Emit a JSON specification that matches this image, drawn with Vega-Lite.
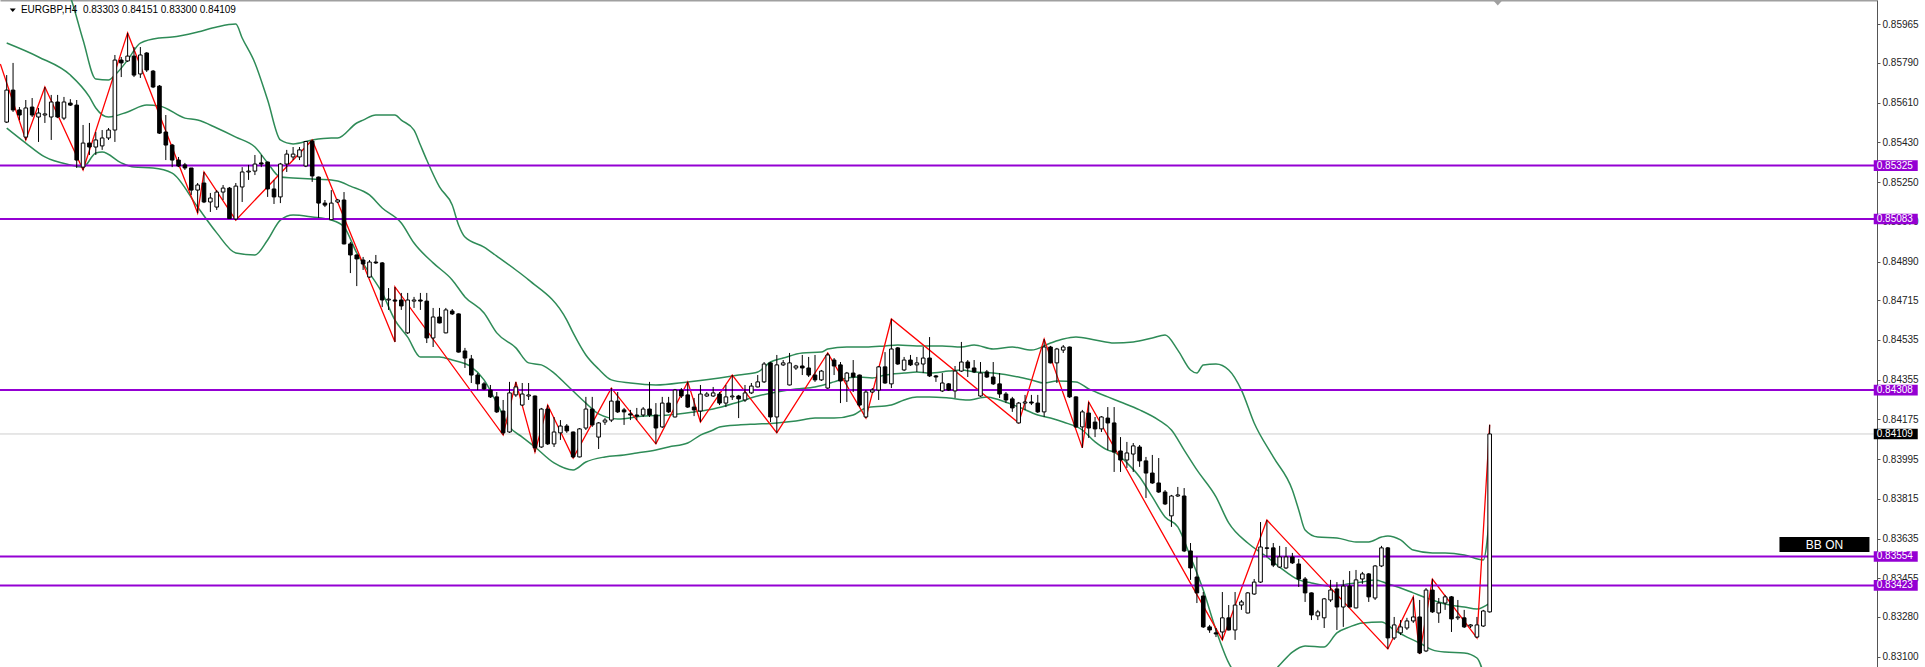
{
"$schema": "https://vega.github.io/schema/vega-lite/v6.json",
"width": 1877, "height": 667,
"autosize": {"type": "none"},
"padding": {"left": 0, "top": 0, "right": 48, "bottom": 0},
"background": "#ffffff",
"config": {"view": {"stroke": null}},
"datasets": {
"c": [
{"i":0,"o":0.85522,"h":0.85735,"l":0.85518,"c":0.85667},
{"i":1,"o":0.85667,"h":0.85790,"l":0.85568,"c":0.85577},
{"i":2,"o":0.85577,"h":0.85590,"l":0.85531,"c":0.85554},
{"i":3,"o":0.85454,"h":0.85622,"l":0.85441,"c":0.85586},
{"i":4,"o":0.85590,"h":0.85631,"l":0.85545,"c":0.85554},
{"i":5,"o":0.85545,"h":0.85586,"l":0.85432,"c":0.85563},
{"i":6,"o":0.85554,"h":0.85681,"l":0.85518,"c":0.85559},
{"i":7,"o":0.85545,"h":0.85645,"l":0.85441,"c":0.85613},
{"i":8,"o":0.85613,"h":0.85645,"l":0.85540,"c":0.85545},
{"i":9,"o":0.85540,"h":0.85636,"l":0.85531,"c":0.85613},
{"i":10,"o":0.85608,"h":0.85626,"l":0.85595,"c":0.85599},
{"i":11,"o":0.85599,"h":0.85622,"l":0.85314,"c":0.85350},
{"i":12,"o":0.85318,"h":0.85509,"l":0.85305,"c":0.85427},
{"i":13,"o":0.85427,"h":0.85518,"l":0.85373,"c":0.85409},
{"i":14,"o":0.85409,"h":0.85477,"l":0.85373,"c":0.85441},
{"i":15,"o":0.85414,"h":0.85486,"l":0.85396,"c":0.85450},
{"i":16,"o":0.85450,"h":0.85495,"l":0.85441,"c":0.85486},
{"i":17,"o":0.85486,"h":0.85826,"l":0.85432,"c":0.85803},
{"i":18,"o":0.85803,"h":0.85817,"l":0.85726,"c":0.85790},
{"i":19,"o":0.85799,"h":0.85926,"l":0.85794,"c":0.85821},
{"i":20,"o":0.85821,"h":0.85862,"l":0.85726,"c":0.85735},
{"i":21,"o":0.85740,"h":0.85862,"l":0.85722,"c":0.85826},
{"i":22,"o":0.85835,"h":0.85839,"l":0.85749,"c":0.85758},
{"i":23,"o":0.85753,"h":0.85758,"l":0.85676,"c":0.85681},
{"i":24,"o":0.85685,"h":0.85690,"l":0.85468,"c":0.85472},
{"i":25,"o":0.85477,"h":0.85554,"l":0.85350,"c":0.85418},
{"i":26,"o":0.85418,"h":0.85423,"l":0.85318,"c":0.85350},
{"i":27,"o":0.85350,"h":0.85364,"l":0.85318,"c":0.85323},
{"i":28,"o":0.85328,"h":0.85337,"l":0.85305,"c":0.85314},
{"i":29,"o":0.85314,"h":0.85314,"l":0.85192,"c":0.85214},
{"i":30,"o":0.85214,"h":0.85246,"l":0.85110,"c":0.85237},
{"i":31,"o":0.85246,"h":0.85296,"l":0.85155,"c":0.85160},
{"i":32,"o":0.85160,"h":0.85201,"l":0.85115,"c":0.85178},
{"i":33,"o":0.85137,"h":0.85214,"l":0.85124,"c":0.85205},
{"i":34,"o":0.85205,"h":0.85237,"l":0.85169,"c":0.85223},
{"i":35,"o":0.85223,"h":0.85228,"l":0.85083,"c":0.85085},
{"i":36,"o":0.85083,"h":0.85246,"l":0.85078,"c":0.85232},
{"i":37,"o":0.85228,"h":0.85318,"l":0.85160,"c":0.85296},
{"i":38,"o":0.85296,"h":0.85328,"l":0.85260,"c":0.85300},
{"i":39,"o":0.85300,"h":0.85373,"l":0.85282,"c":0.85332},
{"i":40,"o":0.85337,"h":0.85373,"l":0.85318,"c":0.85332},
{"i":41,"o":0.85341,"h":0.85343,"l":0.85183,"c":0.85219},
{"i":42,"o":0.85219,"h":0.85260,"l":0.85151,"c":0.85183},
{"i":43,"o":0.85183,"h":0.85337,"l":0.85155,"c":0.85332},
{"i":44,"o":0.85332,"h":0.85396,"l":0.85296,"c":0.85377},
{"i":45,"o":0.85364,"h":0.85409,"l":0.85350,"c":0.85377},
{"i":46,"o":0.85364,"h":0.85409,"l":0.85350,"c":0.85396},
{"i":47,"o":0.85323,"h":0.85436,"l":0.85318,"c":0.85434},
{"i":48,"o":0.85436,"h":0.85441,"l":0.85251,"c":0.85278},
{"i":49,"o":0.85273,"h":0.85275,"l":0.85088,"c":0.85155},
{"i":50,"o":0.85155,"h":0.85169,"l":0.85137,"c":0.85146},
{"i":51,"o":0.85080,"h":0.85214,"l":0.85078,"c":0.85155},
{"i":52,"o":0.85160,"h":0.85174,"l":0.85155,"c":0.85169},
{"i":53,"o":0.85169,"h":0.85205,"l":0.84968,"c":0.84970},
{"i":54,"o":0.84970,"h":0.84979,"l":0.84838,"c":0.84920},
{"i":55,"o":0.84920,"h":0.84922,"l":0.84779,"c":0.84902},
{"i":56,"o":0.84897,"h":0.84911,"l":0.84852,"c":0.84879},
{"i":57,"o":0.84820,"h":0.84897,"l":0.84816,"c":0.84888},
{"i":58,"o":0.84888,"h":0.84920,"l":0.84879,"c":0.84884},
{"i":59,"o":0.84884,"h":0.84888,"l":0.84684,"c":0.84716},
{"i":60,"o":0.84716,"h":0.84770,"l":0.84671,"c":0.84720},
{"i":61,"o":0.84716,"h":0.84775,"l":0.84526,"c":0.84711},
{"i":62,"o":0.84716,"h":0.84748,"l":0.84671,"c":0.84689},
{"i":63,"o":0.84567,"h":0.84748,"l":0.84562,"c":0.84716},
{"i":64,"o":0.84711,"h":0.84730,"l":0.84680,"c":0.84716},
{"i":65,"o":0.84716,"h":0.84748,"l":0.84671,"c":0.84711},
{"i":66,"o":0.84711,"h":0.84748,"l":0.84521,"c":0.84544},
{"i":67,"o":0.84544,"h":0.84680,"l":0.84503,"c":0.84639},
{"i":68,"o":0.84639,"h":0.84680,"l":0.84610,"c":0.84612},
{"i":69,"o":0.84567,"h":0.84680,"l":0.84565,"c":0.84671},
{"i":70,"o":0.84666,"h":0.84675,"l":0.84648,"c":0.84653},
{"i":71,"o":0.84653,"h":0.84655,"l":0.84478,"c":0.84480},
{"i":72,"o":0.84485,"h":0.84499,"l":0.84408,"c":0.84453},
{"i":73,"o":0.84449,"h":0.84467,"l":0.84340,"c":0.84376},
{"i":74,"o":0.84376,"h":0.84385,"l":0.84308,"c":0.84336},
{"i":75,"o":0.84336,"h":0.84345,"l":0.84308,"c":0.84313},
{"i":76,"o":0.84308,"h":0.84331,"l":0.84272,"c":0.84277},
{"i":77,"o":0.84277,"h":0.84299,"l":0.84204,"c":0.84209},
{"i":78,"o":0.84213,"h":0.84263,"l":0.84104,"c":0.84114},
{"i":79,"o":0.84118,"h":0.84345,"l":0.84114,"c":0.84295},
{"i":80,"o":0.84286,"h":0.84345,"l":0.84277,"c":0.84322},
{"i":81,"o":0.84240,"h":0.84340,"l":0.84236,"c":0.84290},
{"i":82,"o":0.84281,"h":0.84340,"l":0.84263,"c":0.84286},
{"i":83,"o":0.84281,"h":0.84283,"l":0.84027,"c":0.84046},
{"i":84,"o":0.84050,"h":0.84227,"l":0.84046,"c":0.84222},
{"i":85,"o":0.84222,"h":0.84240,"l":0.84059,"c":0.84064},
{"i":86,"o":0.84064,"h":0.84186,"l":0.84050,"c":0.84118},
{"i":87,"o":0.84114,"h":0.84172,"l":0.84082,"c":0.84145},
{"i":88,"o":0.84145,"h":0.84154,"l":0.84114,"c":0.84123},
{"i":89,"o":0.84118,"h":0.84120,"l":0.84000,"c":0.84005},
{"i":90,"o":0.84005,"h":0.84136,"l":0.84003,"c":0.84132},
{"i":91,"o":0.84136,"h":0.84277,"l":0.84127,"c":0.84222},
{"i":92,"o":0.84222,"h":0.84277,"l":0.84141,"c":0.84150},
{"i":93,"o":0.84095,"h":0.84163,"l":0.84041,"c":0.84159},
{"i":94,"o":0.84163,"h":0.84181,"l":0.84150,"c":0.84172},
{"i":95,"o":0.84172,"h":0.84317,"l":0.84163,"c":0.84258},
{"i":96,"o":0.84258,"h":0.84299,"l":0.84204,"c":0.84209},
{"i":97,"o":0.84218,"h":0.84227,"l":0.84150,"c":0.84209},
{"i":98,"o":0.84200,"h":0.84218,"l":0.84172,"c":0.84195},
{"i":99,"o":0.84195,"h":0.84227,"l":0.84172,"c":0.84190},
{"i":100,"o":0.84195,"h":0.84231,"l":0.84186,"c":0.84222},
{"i":101,"o":0.84222,"h":0.84345,"l":0.84186,"c":0.84195},
{"i":102,"o":0.84195,"h":0.84249,"l":0.84064,"c":0.84136},
{"i":103,"o":0.84141,"h":0.84277,"l":0.84136,"c":0.84249},
{"i":104,"o":0.84249,"h":0.84277,"l":0.84204,"c":0.84209},
{"i":105,"o":0.84186,"h":0.84313,"l":0.84184,"c":0.84308},
{"i":106,"o":0.84308,"h":0.84317,"l":0.84272,"c":0.84281},
{"i":107,"o":0.84286,"h":0.84345,"l":0.84227,"c":0.84231},
{"i":108,"o":0.84231,"h":0.84272,"l":0.84190,"c":0.84218},
{"i":109,"o":0.84213,"h":0.84331,"l":0.84163,"c":0.84290},
{"i":110,"o":0.84281,"h":0.84299,"l":0.84277,"c":0.84290},
{"i":111,"o":0.84281,"h":0.84322,"l":0.84277,"c":0.84295},
{"i":112,"o":0.84290,"h":0.84299,"l":0.84240,"c":0.84249},
{"i":113,"o":0.84249,"h":0.84331,"l":0.84231,"c":0.84277},
{"i":114,"o":0.84277,"h":0.84376,"l":0.84263,"c":0.84281},
{"i":115,"o":0.84281,"h":0.84286,"l":0.84181,"c":0.84268},
{"i":116,"o":0.84263,"h":0.84331,"l":0.84254,"c":0.84295},
{"i":117,"o":0.84295,"h":0.84340,"l":0.84290,"c":0.84326},
{"i":118,"o":0.84322,"h":0.84376,"l":0.84320,"c":0.84345},
{"i":119,"o":0.84345,"h":0.84435,"l":0.84340,"c":0.84426},
{"i":120,"o":0.84431,"h":0.84435,"l":0.84163,"c":0.84186},
{"i":121,"o":0.84186,"h":0.84467,"l":0.84114,"c":0.84422},
{"i":122,"o":0.84422,"h":0.84444,"l":0.84417,"c":0.84431},
{"i":123,"o":0.84331,"h":0.84476,"l":0.84329,"c":0.84431},
{"i":124,"o":0.84408,"h":0.84422,"l":0.84399,"c":0.84417},
{"i":125,"o":0.84417,"h":0.84467,"l":0.84376,"c":0.84408},
{"i":126,"o":0.84408,"h":0.84458,"l":0.84367,"c":0.84376},
{"i":127,"o":0.84376,"h":0.84467,"l":0.84345,"c":0.84354},
{"i":128,"o":0.84354,"h":0.84399,"l":0.84349,"c":0.84394},
{"i":129,"o":0.84317,"h":0.84476,"l":0.84313,"c":0.84467},
{"i":130,"o":0.84444,"h":0.84453,"l":0.84376,"c":0.84417},
{"i":131,"o":0.84422,"h":0.84435,"l":0.84249,"c":0.84349},
{"i":132,"o":0.84349,"h":0.84390,"l":0.84254,"c":0.84385},
{"i":133,"o":0.84385,"h":0.84444,"l":0.84299,"c":0.84367},
{"i":134,"o":0.84376,"h":0.84378,"l":0.84231,"c":0.84240},
{"i":135,"o":0.84186,"h":0.84308,"l":0.84181,"c":0.84299},
{"i":136,"o":0.84299,"h":0.84317,"l":0.84295,"c":0.84308},
{"i":137,"o":0.84308,"h":0.84417,"l":0.84263,"c":0.84413},
{"i":138,"o":0.84413,"h":0.84480,"l":0.84336,"c":0.84340},
{"i":139,"o":0.84336,"h":0.84630,"l":0.84317,"c":0.84494},
{"i":140,"o":0.84499,"h":0.84503,"l":0.84422,"c":0.84426},
{"i":141,"o":0.84399,"h":0.84458,"l":0.84394,"c":0.84444},
{"i":142,"o":0.84444,"h":0.84467,"l":0.84417,"c":0.84422},
{"i":143,"o":0.84422,"h":0.84458,"l":0.84390,"c":0.84431},
{"i":144,"o":0.84426,"h":0.84503,"l":0.84385,"c":0.84453},
{"i":145,"o":0.84453,"h":0.84548,"l":0.84367,"c":0.84372},
{"i":146,"o":0.84372,"h":0.84376,"l":0.84345,"c":0.84367},
{"i":147,"o":0.84304,"h":0.84385,"l":0.84299,"c":0.84340},
{"i":148,"o":0.84336,"h":0.84340,"l":0.84304,"c":0.84308},
{"i":149,"o":0.84304,"h":0.84417,"l":0.84272,"c":0.84394},
{"i":150,"o":0.84394,"h":0.84526,"l":0.84390,"c":0.84435},
{"i":151,"o":0.84435,"h":0.84444,"l":0.84367,"c":0.84408},
{"i":152,"o":0.84408,"h":0.84444,"l":0.84385,"c":0.84390},
{"i":153,"o":0.84281,"h":0.84435,"l":0.84277,"c":0.84385},
{"i":154,"o":0.84390,"h":0.84399,"l":0.84363,"c":0.84367},
{"i":155,"o":0.84367,"h":0.84435,"l":0.84331,"c":0.84336},
{"i":156,"o":0.84336,"h":0.84385,"l":0.84272,"c":0.84290},
{"i":157,"o":0.84290,"h":0.84299,"l":0.84249,"c":0.84263},
{"i":158,"o":0.84268,"h":0.84277,"l":0.84209,"c":0.84227},
{"i":159,"o":0.84159,"h":0.84254,"l":0.84157,"c":0.84249},
{"i":160,"o":0.84249,"h":0.84286,"l":0.84218,"c":0.84254},
{"i":161,"o":0.84254,"h":0.84286,"l":0.84240,"c":0.84249},
{"i":162,"o":0.84249,"h":0.84286,"l":0.84204,"c":0.84209},
{"i":163,"o":0.84209,"h":0.84539,"l":0.84186,"c":0.84503},
{"i":164,"o":0.84503,"h":0.84508,"l":0.84429,"c":0.84431},
{"i":165,"o":0.84431,"h":0.84499,"l":0.84340,"c":0.84494},
{"i":166,"o":0.84489,"h":0.84512,"l":0.84476,"c":0.84503},
{"i":167,"o":0.84503,"h":0.84505,"l":0.84272,"c":0.84277},
{"i":168,"o":0.84277,"h":0.84279,"l":0.84136,"c":0.84141},
{"i":169,"o":0.84141,"h":0.84218,"l":0.84046,"c":0.84209},
{"i":170,"o":0.84204,"h":0.84254,"l":0.84091,"c":0.84136},
{"i":171,"o":0.84163,"h":0.84186,"l":0.84095,"c":0.84132},
{"i":172,"o":0.84132,"h":0.84190,"l":0.84118,"c":0.84186},
{"i":173,"o":0.84181,"h":0.84231,"l":0.84036,"c":0.84159},
{"i":174,"o":0.84159,"h":0.84231,"l":0.83937,"c":0.84027},
{"i":175,"o":0.84032,"h":0.84095,"l":0.83937,"c":0.83991},
{"i":176,"o":0.83991,"h":0.84073,"l":0.83955,"c":0.84023},
{"i":177,"o":0.84018,"h":0.84068,"l":0.83937,"c":0.84055},
{"i":178,"o":0.84050,"h":0.84059,"l":0.83960,"c":0.83987},
{"i":179,"o":0.83987,"h":0.84005,"l":0.83819,"c":0.83932},
{"i":180,"o":0.83932,"h":0.84014,"l":0.83883,"c":0.83887},
{"i":181,"o":0.83887,"h":0.84000,"l":0.83842,"c":0.83846},
{"i":182,"o":0.83846,"h":0.83855,"l":0.83787,"c":0.83792},
{"i":183,"o":0.83738,"h":0.83833,"l":0.83688,"c":0.83828},
{"i":184,"o":0.83828,"h":0.83869,"l":0.83824,"c":0.83833},
{"i":185,"o":0.83828,"h":0.83864,"l":0.83574,"c":0.83579},
{"i":186,"o":0.83579,"h":0.83615,"l":0.83448,"c":0.83502},
{"i":187,"o":0.83461,"h":0.83552,"l":0.83343,"c":0.83389},
{"i":188,"o":0.83375,"h":0.83393,"l":0.83230,"c":0.83235},
{"i":189,"o":0.83235,"h":0.83244,"l":0.83208,"c":0.83221},
{"i":190,"o":0.83208,"h":0.83230,"l":0.83189,"c":0.83203},
{"i":191,"o":0.83212,"h":0.83393,"l":0.83176,"c":0.83276},
{"i":192,"o":0.83276,"h":0.83334,"l":0.83219,"c":0.83221},
{"i":193,"o":0.83221,"h":0.83393,"l":0.83176,"c":0.83334},
{"i":194,"o":0.83334,"h":0.83357,"l":0.83312,"c":0.83348},
{"i":195,"o":0.83298,"h":0.83393,"l":0.83296,"c":0.83389},
{"i":196,"o":0.83384,"h":0.83452,"l":0.83380,"c":0.83438},
{"i":197,"o":0.83438,"h":0.83710,"l":0.83434,"c":0.83597},
{"i":198,"o":0.83593,"h":0.83719,"l":0.83552,"c":0.83591},
{"i":199,"o":0.83593,"h":0.83615,"l":0.83506,"c":0.83515},
{"i":200,"o":0.83506,"h":0.83602,"l":0.83502,"c":0.83552},
{"i":201,"o":0.83502,"h":0.83597,"l":0.83497,"c":0.83552},
{"i":202,"o":0.83552,"h":0.83570,"l":0.83520,"c":0.83525},
{"i":203,"o":0.83520,"h":0.83543,"l":0.83416,"c":0.83452},
{"i":204,"o":0.83452,"h":0.83461,"l":0.83348,"c":0.83389},
{"i":205,"o":0.83389,"h":0.83391,"l":0.83266,"c":0.83289},
{"i":206,"o":0.83285,"h":0.83312,"l":0.83266,"c":0.83303},
{"i":207,"o":0.83276,"h":0.83366,"l":0.83230,"c":0.83362},
{"i":208,"o":0.83357,"h":0.83448,"l":0.83348,"c":0.83402},
{"i":209,"o":0.83407,"h":0.83438,"l":0.83221,"c":0.83325},
{"i":210,"o":0.83325,"h":0.83448,"l":0.83235,"c":0.83420},
{"i":211,"o":0.83420,"h":0.83488,"l":0.83323,"c":0.83325},
{"i":212,"o":0.83321,"h":0.83493,"l":0.83319,"c":0.83448},
{"i":213,"o":0.83452,"h":0.83484,"l":0.83430,"c":0.83475},
{"i":214,"o":0.83475,"h":0.83479,"l":0.83348,"c":0.83371},
{"i":215,"o":0.83366,"h":0.83515,"l":0.83357,"c":0.83511},
{"i":216,"o":0.83511,"h":0.83602,"l":0.83506,"c":0.83593},
{"i":217,"o":0.83593,"h":0.83597,"l":0.83135,"c":0.83185},
{"i":218,"o":0.83185,"h":0.83280,"l":0.83176,"c":0.83244},
{"i":219,"o":0.83208,"h":0.83266,"l":0.83198,"c":0.83235},
{"i":220,"o":0.83230,"h":0.83276,"l":0.83221,"c":0.83262},
{"i":221,"o":0.83262,"h":0.83371,"l":0.83253,"c":0.83280},
{"i":222,"o":0.83280,"h":0.83357,"l":0.83112,"c":0.83117},
{"i":223,"o":0.83126,"h":0.83411,"l":0.83121,"c":0.83402},
{"i":224,"o":0.83402,"h":0.83452,"l":0.83298,"c":0.83303},
{"i":225,"o":0.83298,"h":0.83366,"l":0.83253,"c":0.83343},
{"i":226,"o":0.83343,"h":0.83380,"l":0.83312,"c":0.83371},
{"i":227,"o":0.83371,"h":0.83375,"l":0.83212,"c":0.83271},
{"i":228,"o":0.83276,"h":0.83357,"l":0.83266,"c":0.83280},
{"i":229,"o":0.83276,"h":0.83312,"l":0.83230,"c":0.83235},
{"i":230,"o":0.83239,"h":0.83248,"l":0.83230,"c":0.83244},
{"i":231,"o":0.83189,"h":0.83280,"l":0.83185,"c":0.83244},
{"i":232,"o":0.83239,"h":0.83312,"l":0.83235,"c":0.83307},
{"i":233,"o":0.83303,"h":0.84151,"l":0.83300,"c":0.84109}
],
"bb": [
{"b":"u","i":0,"v":0.86265},{"b":"u","i":5,"v":0.86238},{"b":"u","i":8,"v":0.86202},{"b":"u","i":10,"v":0.86089},{"b":"u","i":12,"v":0.85894},{"b":"u","i":14,"v":0.85717},{"b":"u","i":16,"v":0.85713},{"b":"u","i":17,"v":0.85735},{"b":"u","i":19,"v":0.85803},{"b":"u","i":21,"v":0.85880},{"b":"u","i":24,"v":0.85903},{"b":"u","i":26,"v":0.85907},{"b":"u","i":30,"v":0.85930},{"b":"u","i":33,"v":0.85953},{"b":"u","i":36,"v":0.85966},{"b":"u","i":37,"v":0.85903},{"b":"u","i":39,"v":0.85790},{"b":"u","i":41,"v":0.85622},{"b":"u","i":43,"v":0.85441},{"b":"u","i":45,"v":0.85423},{"b":"u","i":48,"v":0.85441},{"b":"u","i":51,"v":0.85450},{"b":"u","i":52,"v":0.85450},{"b":"u","i":55,"v":0.85518},{"b":"u","i":56,"v":0.85531},{"b":"u","i":58,"v":0.85554},{"b":"u","i":61,"v":0.85554},{"b":"u","i":62,"v":0.85531},{"b":"u","i":64,"v":0.85486},{"b":"u","i":65,"v":0.85418},{"b":"u","i":66,"v":0.85350},{"b":"u","i":68,"v":0.85228},{"b":"u","i":70,"v":0.85146},{"b":"u","i":71,"v":0.85056},{"b":"u","i":72,"v":0.85001},{"b":"u","i":75,"v":0.84956},{"b":"u","i":77,"v":0.84915},{"b":"u","i":80,"v":0.84852},{"b":"u","i":82,"v":0.84807},{"b":"u","i":88,"v":0.84625},{"b":"u","i":89,"v":0.84567},{"b":"u","i":91,"v":0.84467},{"b":"u","i":93,"v":0.84403},{"b":"u","i":95,"v":0.84354},{"b":"u","i":98,"v":0.84340},{"b":"u","i":102,"v":0.84331},{"b":"u","i":107,"v":0.84345},{"b":"u","i":112,"v":0.84363},{"b":"u","i":115,"v":0.84376},{"b":"u","i":118,"v":0.84390},{"b":"u","i":120,"v":0.84435},{"b":"u","i":122,"v":0.84453},{"b":"u","i":125,"v":0.84476},{"b":"u","i":128,"v":0.84480},{"b":"u","i":129,"v":0.84494},{"b":"u","i":132,"v":0.84503},{"b":"u","i":135,"v":0.84503},{"b":"u","i":138,"v":0.84508},{"b":"u","i":140,"v":0.84512},{"b":"u","i":143,"v":0.84508},{"b":"u","i":147,"v":0.84508},{"b":"u","i":150,"v":0.84503},{"b":"u","i":152,"v":0.84512},{"b":"u","i":155,"v":0.84494},{"b":"u","i":158,"v":0.84503},{"b":"u","i":161,"v":0.84489},{"b":"u","i":164,"v":0.84521},{"b":"u","i":166,"v":0.84539},{"b":"u","i":168,"v":0.84548},{"b":"u","i":171,"v":0.84535},{"b":"u","i":174,"v":0.84521},{"b":"u","i":177,"v":0.84526},{"b":"u","i":180,"v":0.84544},{"b":"u","i":182,"v":0.84557},{"b":"u","i":184,"v":0.84489},{"b":"u","i":186,"v":0.84399},{"b":"u","i":187,"v":0.84385},{"b":"u","i":188,"v":0.84422},{"b":"u","i":190,"v":0.84426},{"b":"u","i":192,"v":0.84399},{"b":"u","i":194,"v":0.84308},{"b":"u","i":196,"v":0.84159},{"b":"u","i":199,"v":0.84005},{"b":"u","i":202,"v":0.83855},{"b":"u","i":203,"v":0.83765},{"b":"u","i":204,"v":0.83674},{"b":"u","i":206,"v":0.83642},{"b":"u","i":209,"v":0.83638},{"b":"u","i":212,"v":0.83620},{"b":"u","i":214,"v":0.83620},{"b":"u","i":216,"v":0.83642},{"b":"u","i":217,"v":0.83647},{"b":"u","i":219,"v":0.83629},{"b":"u","i":221,"v":0.83583},{"b":"u","i":224,"v":0.83570},{"b":"u","i":226,"v":0.83570},{"b":"u","i":229,"v":0.83561},{"b":"u","i":232,"v":0.83538},{"b":"u","i":233,"v":0.83742},
{"b":"m","i":0,"v":0.85880},{"b":"m","i":5,"v":0.85817},{"b":"m","i":10,"v":0.85735},{"b":"m","i":13,"v":0.85636},{"b":"m","i":14,"v":0.85586},{"b":"m","i":16,"v":0.85545},{"b":"m","i":19,"v":0.85568},{"b":"m","i":22,"v":0.85599},{"b":"m","i":24,"v":0.85595},{"b":"m","i":28,"v":0.85540},{"b":"m","i":30,"v":0.85531},{"b":"m","i":33,"v":0.85495},{"b":"m","i":36,"v":0.85454},{"b":"m","i":39,"v":0.85409},{"b":"m","i":41,"v":0.85337},{"b":"m","i":43,"v":0.85273},{"b":"m","i":45,"v":0.85269},{"b":"m","i":48,"v":0.85264},{"b":"m","i":51,"v":0.85260},{"b":"m","i":52,"v":0.85255},{"b":"m","i":54,"v":0.85232},{"b":"m","i":57,"v":0.85192},{"b":"m","i":59,"v":0.85133},{"b":"m","i":62,"v":0.85065},{"b":"m","i":64,"v":0.84974},{"b":"m","i":67,"v":0.84884},{"b":"m","i":70,"v":0.84807},{"b":"m","i":72,"v":0.84730},{"b":"m","i":75,"v":0.84657},{"b":"m","i":77,"v":0.84567},{"b":"m","i":80,"v":0.84499},{"b":"m","i":82,"v":0.84431},{"b":"m","i":84,"v":0.84422},{"b":"m","i":86,"v":0.84385},{"b":"m","i":88,"v":0.84331},{"b":"m","i":91,"v":0.84249},{"b":"m","i":93,"v":0.84200},{"b":"m","i":96,"v":0.84177},{"b":"m","i":100,"v":0.84190},{"b":"m","i":104,"v":0.84195},{"b":"m","i":108,"v":0.84209},{"b":"m","i":111,"v":0.84222},{"b":"m","i":115,"v":0.84254},{"b":"m","i":118,"v":0.84281},{"b":"m","i":121,"v":0.84299},{"b":"m","i":124,"v":0.84313},{"b":"m","i":127,"v":0.84322},{"b":"m","i":130,"v":0.84345},{"b":"m","i":132,"v":0.84363},{"b":"m","i":134,"v":0.84367},{"b":"m","i":136,"v":0.84363},{"b":"m","i":138,"v":0.84376},{"b":"m","i":141,"v":0.84385},{"b":"m","i":143,"v":0.84390},{"b":"m","i":145,"v":0.84385},{"b":"m","i":148,"v":0.84394},{"b":"m","i":150,"v":0.84399},{"b":"m","i":152,"v":0.84390},{"b":"m","i":155,"v":0.84385},{"b":"m","i":159,"v":0.84367},{"b":"m","i":161,"v":0.84354},{"b":"m","i":163,"v":0.84340},{"b":"m","i":165,"v":0.84349},{"b":"m","i":168,"v":0.84345},{"b":"m","i":170,"v":0.84313},{"b":"m","i":173,"v":0.84277},{"b":"m","i":175,"v":0.84254},{"b":"m","i":178,"v":0.84218},{"b":"m","i":181,"v":0.84172},{"b":"m","i":183,"v":0.84127},{"b":"m","i":185,"v":0.84036},{"b":"m","i":187,"v":0.83946},{"b":"m","i":190,"v":0.83824},{"b":"m","i":192,"v":0.83706},{"b":"m","i":195,"v":0.83615},{"b":"m","i":198,"v":0.83552},{"b":"m","i":200,"v":0.83506},{"b":"m","i":203,"v":0.83448},{"b":"m","i":205,"v":0.83434},{"b":"m","i":208,"v":0.83420},{"b":"m","i":211,"v":0.83430},{"b":"m","i":213,"v":0.83438},{"b":"m","i":215,"v":0.83448},{"b":"m","i":217,"v":0.83430},{"b":"m","i":219,"v":0.83411},{"b":"m","i":221,"v":0.83389},{"b":"m","i":224,"v":0.83357},{"b":"m","i":226,"v":0.83339},{"b":"m","i":229,"v":0.83325},{"b":"m","i":231,"v":0.83316},{"b":"m","i":233,"v":0.83343},
{"b":"l","i":0,"v":0.85495},{"b":"l","i":3,"v":0.85427},{"b":"l","i":6,"v":0.85364},{"b":"l","i":10,"v":0.85328},{"b":"l","i":12,"v":0.85318},{"b":"l","i":14,"v":0.85382},{"b":"l","i":15,"v":0.85386},{"b":"l","i":18,"v":0.85337},{"b":"l","i":20,"v":0.85318},{"b":"l","i":23,"v":0.85314},{"b":"l","i":26,"v":0.85291},{"b":"l","i":30,"v":0.85137},{"b":"l","i":33,"v":0.85020},{"b":"l","i":36,"v":0.84929},{"b":"l","i":39,"v":0.84920},{"b":"l","i":41,"v":0.84988},{"b":"l","i":43,"v":0.85078},{"b":"l","i":45,"v":0.85101},{"b":"l","i":48,"v":0.85092},{"b":"l","i":51,"v":0.85078},{"b":"l","i":53,"v":0.85047},{"b":"l","i":55,"v":0.84929},{"b":"l","i":57,"v":0.84838},{"b":"l","i":59,"v":0.84748},{"b":"l","i":61,"v":0.84625},{"b":"l","i":63,"v":0.84548},{"b":"l","i":65,"v":0.84458},{"b":"l","i":68,"v":0.84458},{"b":"l","i":70,"v":0.84444},{"b":"l","i":73,"v":0.84413},{"b":"l","i":75,"v":0.84354},{"b":"l","i":77,"v":0.84249},{"b":"l","i":79,"v":0.84141},{"b":"l","i":81,"v":0.84095},{"b":"l","i":83,"v":0.84050},{"b":"l","i":86,"v":0.83978},{"b":"l","i":89,"v":0.83946},{"b":"l","i":91,"v":0.83982},{"b":"l","i":94,"v":0.84005},{"b":"l","i":97,"v":0.84014},{"b":"l","i":99,"v":0.84023},{"b":"l","i":102,"v":0.84036},{"b":"l","i":104,"v":0.84050},{"b":"l","i":107,"v":0.84068},{"b":"l","i":109,"v":0.84104},{"b":"l","i":111,"v":0.84127},{"b":"l","i":112,"v":0.84141},{"b":"l","i":115,"v":0.84150},{"b":"l","i":118,"v":0.84154},{"b":"l","i":121,"v":0.84159},{"b":"l","i":124,"v":0.84168},{"b":"l","i":127,"v":0.84181},{"b":"l","i":130,"v":0.84181},{"b":"l","i":133,"v":0.84195},{"b":"l","i":135,"v":0.84227},{"b":"l","i":138,"v":0.84236},{"b":"l","i":139,"v":0.84240},{"b":"l","i":141,"v":0.84263},{"b":"l","i":143,"v":0.84277},{"b":"l","i":145,"v":0.84277},{"b":"l","i":148,"v":0.84272},{"b":"l","i":151,"v":0.84263},{"b":"l","i":154,"v":0.84277},{"b":"l","i":156,"v":0.84263},{"b":"l","i":159,"v":0.84231},{"b":"l","i":162,"v":0.84195},{"b":"l","i":164,"v":0.84181},{"b":"l","i":166,"v":0.84163},{"b":"l","i":169,"v":0.84127},{"b":"l","i":171,"v":0.84073},{"b":"l","i":173,"v":0.84036},{"b":"l","i":174,"v":0.84027},{"b":"l","i":176,"v":0.83978},{"b":"l","i":178,"v":0.83914},{"b":"l","i":180,"v":0.83824},{"b":"l","i":182,"v":0.83733},{"b":"l","i":184,"v":0.83688},{"b":"l","i":186,"v":0.83552},{"b":"l","i":188,"v":0.83402},{"b":"l","i":190,"v":0.83221},{"b":"l","i":192,"v":0.83072},{"b":"l","i":194,"v":0.82995},{"b":"l","i":196,"v":0.82977},{"b":"l","i":198,"v":0.83004},{"b":"l","i":200,"v":0.83062},{"b":"l","i":202,"v":0.83121},{"b":"l","i":204,"v":0.83149},{"b":"l","i":207,"v":0.83144},{"b":"l","i":209,"v":0.83208},{"b":"l","i":211,"v":0.83235},{"b":"l","i":213,"v":0.83253},{"b":"l","i":216,"v":0.83257},{"b":"l","i":218,"v":0.83221},{"b":"l","i":220,"v":0.83189},{"b":"l","i":222,"v":0.83162},{"b":"l","i":224,"v":0.83131},{"b":"l","i":226,"v":0.83121},{"b":"l","i":229,"v":0.83117},{"b":"l","i":231,"v":0.83094},{"b":"l","i":233,"v":0.82904}
],
"zz": [
{"k":0,"i":-1,"v":0.85785},{"k":1,"i":3,"v":0.85441},{"k":2,"i":6,"v":0.85681},{"k":3,"i":12,"v":0.85305},{"k":4,"i":19,"v":0.85926},{"k":5,"i":30,"v":0.85110},{"k":6,"i":31,"v":0.85296},{"k":7,"i":36,"v":0.85078},{"k":8,"i":48,"v":0.85441},{"k":9,"i":61,"v":0.84526},{"k":10,"i":61,"v":0.84775},{"k":11,"i":78,"v":0.84104},{"k":12,"i":80,"v":0.84345},{"k":13,"i":83,"v":0.84027},{"k":14,"i":85,"v":0.84240},{"k":15,"i":89,"v":0.84000},{"k":16,"i":95,"v":0.84317},{"k":17,"i":102,"v":0.84064},{"k":18,"i":107,"v":0.84345},{"k":19,"i":109,"v":0.84163},{"k":20,"i":114,"v":0.84376},{"k":21,"i":121,"v":0.84114},{"k":22,"i":129,"v":0.84476},{"k":23,"i":135,"v":0.84181},{"k":24,"i":139,"v":0.84630},{"k":25,"i":159,"v":0.84159},{"k":26,"i":163,"v":0.84539},{"k":27,"i":169,"v":0.84046},{"k":28,"i":170,"v":0.84254},{"k":29,"i":191,"v":0.83176},{"k":30,"i":198,"v":0.83719},{"k":31,"i":217,"v":0.83135},{"k":32,"i":221,"v":0.83371},{"k":33,"i":222,"v":0.83112},{"k":34,"i":224,"v":0.83452},{"k":35,"i":231,"v":0.83185},{"k":36,"i":233,"v":0.84151}
],
"lv": [{"v":0.85325},{"v":0.85083},{"v":0.84308},{"v":0.83554},{"v":0.83423}],
"bid": [{"v":0.84109}]
},
"layer": [
{"data":{"name":"bid"},"mark":{"type":"rule","color":"#cfcfcf","strokeWidth":1},
 "encoding":{"y":{"field":"v","type":"quantitative","scale":{"domain":[0.830533,0.860751],"nice":false,"zero":false},
   "axis":{"orient":"right","title":null,"grid":false,"format":".5f","values":[0.85965,0.8579,0.8561,0.8543,0.8525,0.8507,0.8489,0.84715,0.84535,0.84355,0.84175,0.83995,0.83815,0.83635,0.83455,0.8328,0.831],"tickSize":3,"labelPadding":2,"labelFont":"Liberation Sans","labelFontSize":10,"labelColor":"#222222","domainColor":"#555555","tickColor":"#555555","labelOverlap":false,"labelBound":false,"labelFlush":false}}}},
{"data":{"name":"bb"},"mark":{"type":"line","color":"#2e8b57","strokeWidth":1.5,"clip":true,"interpolate":"monotone"},
 "encoding":{"x":{"field":"i","type":"quantitative","scale":{"domain":[-0.266,293.07],"nice":false,"zero":false},
   "axis":{"orient":"top","title":null,"labels":false,"ticks":false,"grid":false,"domain":true,"domainColor":"#a0a0a0","domainWidth":2}},
  "y":{"field":"v","type":"quantitative","scale":{"domain":[0.830533,0.860751],"nice":false,"zero":false}},
  "detail":{"field":"b"},"order":{"field":"i"}}},
{"data":{"name":"zz"},"mark":{"type":"line","color":"#ff0000","strokeWidth":1.3,"clip":true},
 "encoding":{"x":{"field":"i","type":"quantitative","scale":{"domain":[-0.266,293.07],"nice":false,"zero":false}},
  "y":{"field":"v","type":"quantitative","scale":{"domain":[0.830533,0.860751],"nice":false,"zero":false}},
  "order":{"field":"k"}}},
{"data":{"name":"lv"},"mark":{"type":"rule","color":"#9400d3","strokeWidth":2},
 "encoding":{"y":{"field":"v","type":"quantitative","scale":{"domain":[0.830533,0.860751],"nice":false,"zero":false}}}},
{"data":{"name":"c"},"mark":{"type":"rule","color":"#000000","strokeWidth":1},
 "encoding":{"x":{"field":"i","type":"quantitative","scale":{"domain":[-0.266,293.07],"nice":false,"zero":false}},
  "y":{"field":"l","type":"quantitative","scale":{"domain":[0.830533,0.860751],"nice":false,"zero":false}},
  "y2":{"field":"h"}}},
{"data":{"name":"c"},"mark":{"type":"bar","width":3.6,"stroke":"#000000","strokeWidth":1},
 "encoding":{"x":{"field":"i","type":"quantitative","scale":{"domain":[-0.266,293.07],"nice":false,"zero":false}},
  "y":{"field":"o","type":"quantitative","scale":{"domain":[0.830533,0.860751],"nice":false,"zero":false}},
  "y2":{"field":"c"},
  "fill":{"condition":{"test":"datum.c >= datum.o","value":"#ffffff"},"value":"#000000"}}},
{"data":{"name":"lv"},"mark":{"type":"point","shape":"M-1,-0.243H1V0.243H-1Z","size":1936,"filled":true,"color":"#9400d3","opacity":1,"strokeWidth":0},
 "encoding":{"x":{"datum":296.8,"type":"quantitative","scale":{"domain":[-0.266,293.07],"nice":false,"zero":false}},
  "y":{"field":"v","type":"quantitative","scale":{"domain":[0.830533,0.860751],"nice":false,"zero":false}}}},
{"data":{"name":"bid"},"mark":{"type":"point","shape":"M-1,-0.243H1V0.243H-1Z","size":1936,"filled":true,"color":"#000000","opacity":1,"strokeWidth":0},
 "encoding":{"x":{"datum":296.8,"type":"quantitative","scale":{"domain":[-0.266,293.07],"nice":false,"zero":false}},
  "y":{"field":"v","type":"quantitative","scale":{"domain":[0.830533,0.860751],"nice":false,"zero":false}}}},
{"data":{"name":"lv"},"mark":{"type":"text","align":"left","baseline":"middle","font":"Liberation Sans","fontSize":10,"color":"#ffffff"},
 "encoding":{"x":{"datum":293.82,"type":"quantitative","scale":{"domain":[-0.266,293.07],"nice":false,"zero":false}},
  "y":{"field":"v","type":"quantitative","scale":{"domain":[0.830533,0.860751],"nice":false,"zero":false}},
  "text":{"field":"v","type":"quantitative","format":".5f"}}},
{"data":{"name":"bid"},"mark":{"type":"text","align":"left","baseline":"middle","font":"Liberation Sans","fontSize":10,"color":"#ffffff"},
 "encoding":{"x":{"datum":293.82,"type":"quantitative","scale":{"domain":[-0.266,293.07],"nice":false,"zero":false}},
  "y":{"field":"v","type":"quantitative","scale":{"domain":[0.830533,0.860751],"nice":false,"zero":false}},
  "text":{"field":"v","type":"quantitative","format":".5f"}}},
{"data":{"values":[{"t":"BB ON"}]},"mark":{"type":"point","shape":"M-1,-0.1667H1V0.1667H-1Z","size":8100,"filled":true,"color":"#000000","opacity":1,"strokeWidth":0},
 "encoding":{"x":{"datum":285.6,"type":"quantitative","scale":{"domain":[-0.266,293.07],"nice":false,"zero":false}},
  "y":{"datum":0.83608,"type":"quantitative","scale":{"domain":[0.830533,0.860751],"nice":false,"zero":false}}}},
{"data":{"values":[{"t":"BB ON"}]},"mark":{"type":"text","align":"center","baseline":"middle","font":"Liberation Sans","fontSize":12,"color":"#ffffff"},
 "encoding":{"x":{"datum":285.6,"type":"quantitative","scale":{"domain":[-0.266,293.07],"nice":false,"zero":false}},
  "y":{"datum":0.83608,"type":"quantitative","scale":{"domain":[0.830533,0.860751],"nice":false,"zero":false}},
  "text":{"field":"t"}}},
{"data":{"values":[{"t":"EURGBP,H4\u00a0\u00a00.83303 0.84151 0.83300 0.84109"}]},"mark":{"type":"text","align":"left","baseline":"alphabetic","font":"Liberation Sans","fontSize":10,"color":"#000000"},
 "encoding":{"x":{"datum":2.23,"type":"quantitative","scale":{"domain":[-0.266,293.07],"nice":false,"zero":false}},
  "y":{"datum":0.86018,"type":"quantitative","scale":{"domain":[0.830533,0.860751],"nice":false,"zero":false}},
  "text":{"field":"t"}}},
{"data":{"values":[{"t":"v"}]},"mark":{"type":"point","shape":"M-1,-0.6L1,-0.6L0,0.6Z","size":36,"filled":true,"color":"#000000","opacity":1,"strokeWidth":0},
 "encoding":{"x":{"datum":0.95,"type":"quantitative","scale":{"domain":[-0.266,293.07],"nice":false,"zero":false}},
  "y":{"datum":0.86029,"type":"quantitative","scale":{"domain":[0.830533,0.860751],"nice":false,"zero":false}}}},
{"data":{"values":[{"t":"s"}]},"mark":{"type":"point","shape":"M-1,-0.5L1,-0.5L0,0.6Z","size":64,"filled":true,"color":"#a0a0a0","opacity":1,"strokeWidth":0},
 "encoding":{"x":{"datum":234.27,"type":"quantitative","scale":{"domain":[-0.266,293.07],"nice":false,"zero":false}},
  "y":{"datum":0.86061,"type":"quantitative","scale":{"domain":[0.830533,0.860751],"nice":false,"zero":false}}}}
]
}
